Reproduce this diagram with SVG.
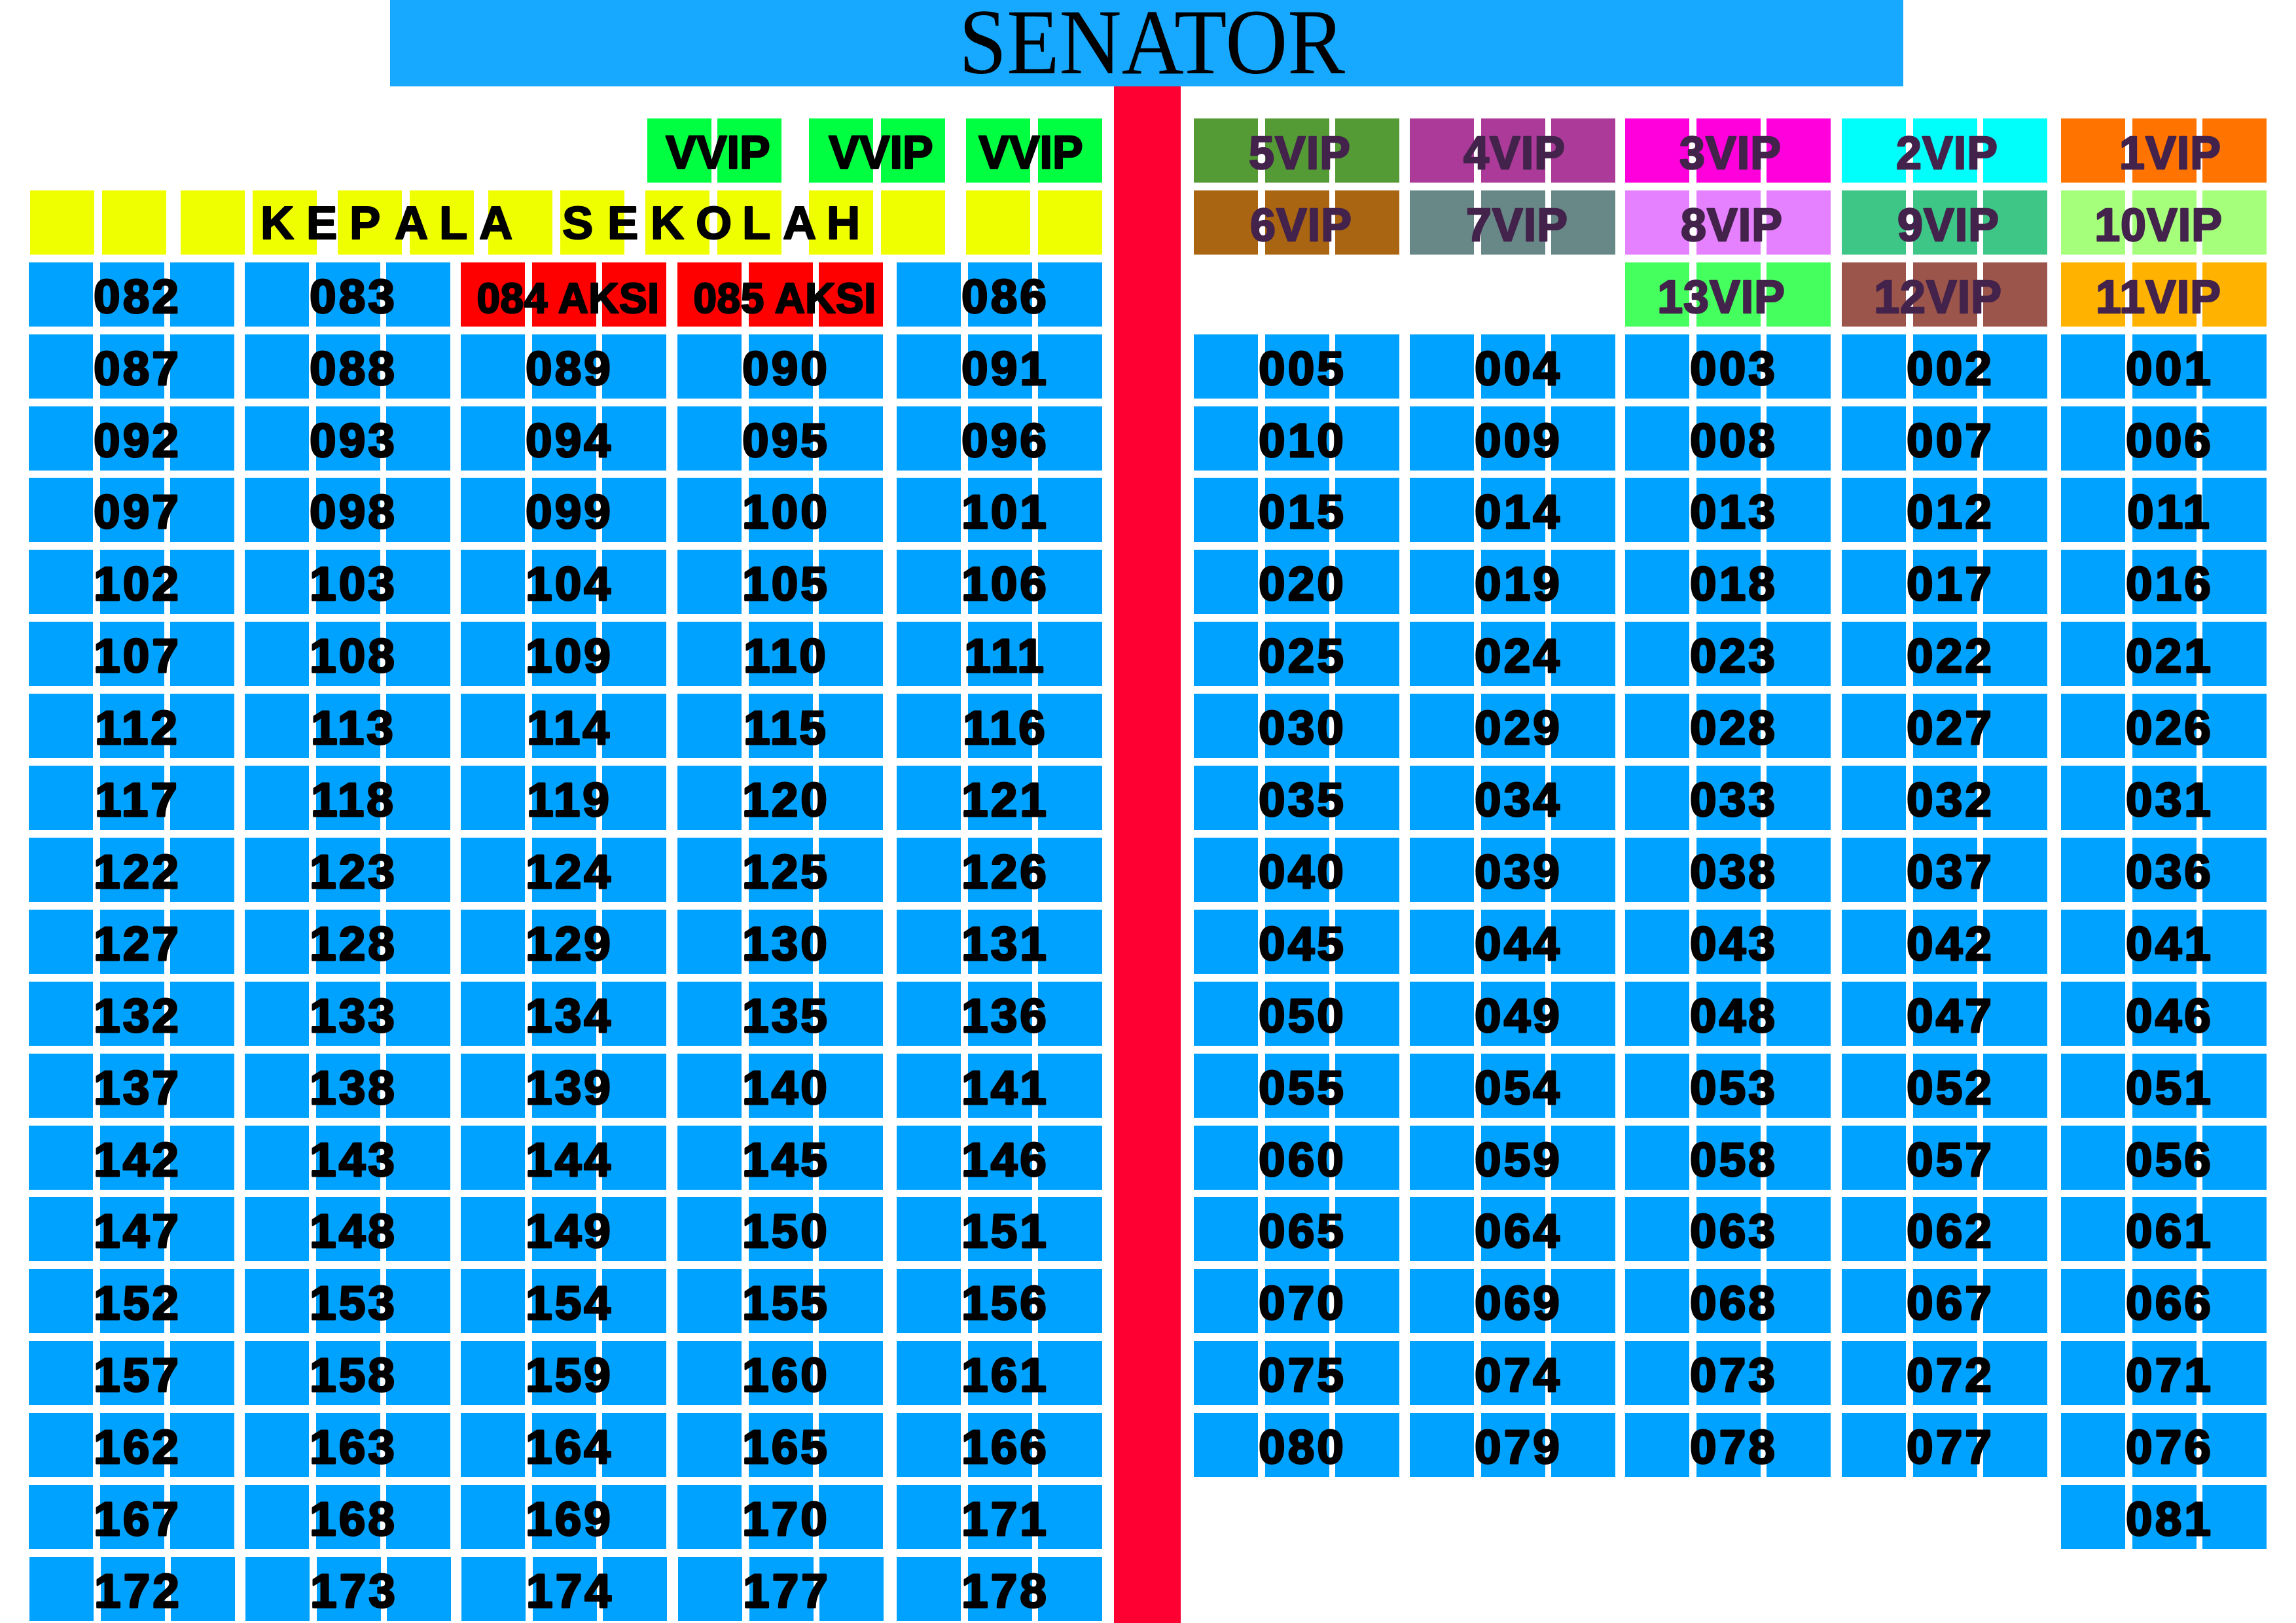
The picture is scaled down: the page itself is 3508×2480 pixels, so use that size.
<svg xmlns="http://www.w3.org/2000/svg" xmlns:xlink="http://www.w3.org/1999/xlink" width="3508" height="2480" viewBox="0 0 3508 2480">
<style>
.seat{fill:#00A2FF}
.aksi{fill:#FF0000}
.n{fill:#000;stroke:#000;stroke-width:3px;stroke-linejoin:round;font-family:"Liberation Sans",Arial,sans-serif;font-weight:700;font-size:73px;letter-spacing:4px;text-anchor:middle}
.a{fill:#000;stroke:#000;stroke-width:2.5px;stroke-linejoin:round;font-family:"Liberation Sans",Arial,sans-serif;font-weight:700;font-size:64px;letter-spacing:0.5px;text-anchor:middle}
.v{fill:#43234B;stroke:#43234B;stroke-width:2.5px;stroke-linejoin:round;font-family:"Liberation Sans",Arial,sans-serif;font-weight:700;font-size:70px;letter-spacing:1px;text-anchor:middle}
.vv{fill:#000;stroke:#000;stroke-width:2.5px;stroke-linejoin:round;font-family:"Liberation Sans",Arial,sans-serif;font-weight:700;font-size:70px;text-anchor:middle}
.ks{fill:#000;stroke:#000;stroke-width:2px;stroke-linejoin:round;font-family:"Liberation Sans",Arial,sans-serif;font-weight:700;font-size:71px}
</style>
<defs>
<g id="trio"><rect x="0" y="0" width="98" height="98"/><rect x="109" y="0" width="98" height="98"/><rect x="216" y="0" width="98" height="98"/></g>
<g id="duo"><rect x="0" y="0" width="98" height="98"/><rect x="110" y="0" width="98" height="98"/></g>
</defs>
<rect id="background" x="0" y="0" width="3508" height="2480" fill="#FFFFFF"/>
<g id="aisle"><rect x="1702" y="129" width="102" height="2351" fill="#FF0033"/></g>
<g id="stage"><rect x="596" y="0" width="2312" height="132" fill="#17A8FF"/>
<text x="1465" y="112" font-family="'Liberation Serif','Times New Roman',serif" font-size="142" textLength="590" lengthAdjust="spacingAndGlyphs" fill="#000">SENATOR</text></g>

<g id="vvip-1" fill="#00FF40" transform="translate(989,181)"><rect x="0" y="0" width="98" height="98"/><rect x="107" y="0" width="98" height="98"/><text class="vv" x="108" y="76">VVIP</text></g>
<g id="vvip-2" fill="#00FF40" transform="translate(1236,181)"><use xlink:href="#duo"/><text class="vv" x="110" y="76">VVIP</text></g>
<g id="vvip-3" fill="#00FF40" transform="translate(1476,181)"><use xlink:href="#duo"/><text class="vv" x="99" y="76">VVIP</text></g>

<g id="kepala-sekolah" fill="#F0FF00">
<rect x="46" y="291" width="98" height="98"/><rect x="156" y="291" width="98" height="98"/><rect x="276" y="291" width="98" height="98"/><rect x="386" y="291" width="98" height="98"/><rect x="516" y="291" width="98" height="98"/><rect x="626" y="291" width="98" height="98"/><rect x="746" y="291" width="98" height="98"/><rect x="856" y="291" width="98" height="98"/><rect x="986" y="291" width="98" height="98"/><rect x="1096" y="291" width="98" height="98"/><rect x="1236" y="291" width="98" height="98"/><rect x="1346" y="291" width="98" height="98"/><rect x="1476" y="291" width="98" height="98"/><rect x="1586" y="291" width="98" height="98"/>
<text class="ks" x="398 468 534 603 671 732 800 859 928 994 1063 1134 1196 1263" y="365">KEPALA SEKOLAH</text>
</g>

<g id="vip-5" fill="#549B36" transform="translate(1824,181)"><use xlink:href="#trio"/><text class="v" x="162" y="77">5VIP</text></g>
<g id="vip-4" fill="#AC3A98" transform="translate(2154,181)"><use xlink:href="#trio"/><text class="v" x="160" y="77">4VIP</text></g>
<g id="vip-3" fill="#FF00DC" transform="translate(2483,181)"><use xlink:href="#trio"/><text class="v" x="161" y="77">3VIP</text></g>
<g id="vip-2" fill="#00FFFA" transform="translate(2814,181)"><use xlink:href="#trio"/><text class="v" x="161" y="77">2VIP</text></g>
<g id="vip-1" fill="#FF7300" transform="translate(3149,181)"><use xlink:href="#trio"/><text class="v" x="167" y="77">1VIP</text></g>
<g id="vip-6" fill="#A96512" transform="translate(1824,291)"><use xlink:href="#trio"/><text class="v" x="164" y="77">6VIP</text></g>
<g id="vip-7" fill="#688787" transform="translate(2154,291)"><use xlink:href="#trio"/><text class="v" x="164" y="77">7VIP</text></g>
<g id="vip-8" fill="#E580FF" transform="translate(2483,291)"><use xlink:href="#trio"/><text class="v" x="163" y="77">8VIP</text></g>
<g id="vip-9" fill="#3DC686" transform="translate(2814,291)"><use xlink:href="#trio"/><text class="v" x="163" y="77">9VIP</text></g>
<g id="vip-10" fill="#A6FF7B" transform="translate(3149,291)"><use xlink:href="#trio"/><text class="v" x="149" y="77">10VIP</text></g>
<g id="vip-13" fill="#44FF5D" transform="translate(2483,401)"><use xlink:href="#trio"/><text class="v" x="147" y="77">13VIP</text></g>
<g id="vip-12" fill="#9C554A" transform="translate(2814,401)"><use xlink:href="#trio"/><text class="v" x="147" y="77">12VIP</text></g>
<g id="vip-11" fill="#FFB300" transform="translate(3149,401)"><use xlink:href="#trio"/><text class="v" x="149" y="77">11VIP</text></g>

<g id="seats-left">
<g id="s082" class="seat" transform="translate(44,401)"><use xlink:href="#trio"/><text class="n" x="166" y="77">082</text></g>
<g id="s083" class="seat" transform="translate(374,401)"><use xlink:href="#trio"/><text class="n" x="166" y="77">083</text></g>
<g id="s084" class="aksi" transform="translate(704,401)"><use xlink:href="#trio"/><text class="a" x="164" y="77">084 AKSI</text></g>
<g id="s085" class="aksi" transform="translate(1035,401)"><use xlink:href="#trio"/><text class="a" x="164" y="77">085 AKSI</text></g>
<g id="s086" class="seat" transform="translate(1370,401)"><use xlink:href="#trio"/><text class="n" x="166" y="77">086</text></g>

<g id="s087" class="seat" transform="translate(44,511)"><use xlink:href="#trio"/><text class="n" x="166" y="77">087</text></g>
<g id="s088" class="seat" transform="translate(374,511)"><use xlink:href="#trio"/><text class="n" x="166" y="77">088</text></g>
<g id="s089" class="seat" transform="translate(704,511)"><use xlink:href="#trio"/><text class="n" x="166" y="77">089</text></g>
<g id="s090" class="seat" transform="translate(1035,511)"><use xlink:href="#trio"/><text class="n" x="166" y="77">090</text></g>
<g id="s091" class="seat" transform="translate(1370,511)"><use xlink:href="#trio"/><text class="n" x="166" y="77">091</text></g>

<g id="s092" class="seat" transform="translate(44,621)"><use xlink:href="#trio"/><text class="n" x="166" y="77">092</text></g>
<g id="s093" class="seat" transform="translate(374,621)"><use xlink:href="#trio"/><text class="n" x="166" y="77">093</text></g>
<g id="s094" class="seat" transform="translate(704,621)"><use xlink:href="#trio"/><text class="n" x="166" y="77">094</text></g>
<g id="s095" class="seat" transform="translate(1035,621)"><use xlink:href="#trio"/><text class="n" x="166" y="77">095</text></g>
<g id="s096" class="seat" transform="translate(1370,621)"><use xlink:href="#trio"/><text class="n" x="166" y="77">096</text></g>

<g id="s097" class="seat" transform="translate(44,730)"><use xlink:href="#trio"/><text class="n" x="166" y="77">097</text></g>
<g id="s098" class="seat" transform="translate(374,730)"><use xlink:href="#trio"/><text class="n" x="166" y="77">098</text></g>
<g id="s099" class="seat" transform="translate(704,730)"><use xlink:href="#trio"/><text class="n" x="166" y="77">099</text></g>
<g id="s100" class="seat" transform="translate(1035,730)"><use xlink:href="#trio"/><text class="n" x="166" y="77">100</text></g>
<g id="s101" class="seat" transform="translate(1370,730)"><use xlink:href="#trio"/><text class="n" x="166" y="77">101</text></g>

<g id="s102" class="seat" transform="translate(44,840)"><use xlink:href="#trio"/><text class="n" x="166" y="77">102</text></g>
<g id="s103" class="seat" transform="translate(374,840)"><use xlink:href="#trio"/><text class="n" x="166" y="77">103</text></g>
<g id="s104" class="seat" transform="translate(704,840)"><use xlink:href="#trio"/><text class="n" x="166" y="77">104</text></g>
<g id="s105" class="seat" transform="translate(1035,840)"><use xlink:href="#trio"/><text class="n" x="166" y="77">105</text></g>
<g id="s106" class="seat" transform="translate(1370,840)"><use xlink:href="#trio"/><text class="n" x="166" y="77">106</text></g>

<g id="s107" class="seat" transform="translate(44,950)"><use xlink:href="#trio"/><text class="n" x="166" y="77">107</text></g>
<g id="s108" class="seat" transform="translate(374,950)"><use xlink:href="#trio"/><text class="n" x="166" y="77">108</text></g>
<g id="s109" class="seat" transform="translate(704,950)"><use xlink:href="#trio"/><text class="n" x="166" y="77">109</text></g>
<g id="s110" class="seat" transform="translate(1035,950)"><use xlink:href="#trio"/><text class="n" x="166" y="77">110</text></g>
<g id="s111" class="seat" transform="translate(1370,950)"><use xlink:href="#trio"/><text class="n" x="166" y="77">111</text></g>

<g id="s112" class="seat" transform="translate(44,1060)"><use xlink:href="#trio"/><text class="n" x="166" y="77">112</text></g>
<g id="s113" class="seat" transform="translate(374,1060)"><use xlink:href="#trio"/><text class="n" x="166" y="77">113</text></g>
<g id="s114" class="seat" transform="translate(704,1060)"><use xlink:href="#trio"/><text class="n" x="166" y="77">114</text></g>
<g id="s115" class="seat" transform="translate(1035,1060)"><use xlink:href="#trio"/><text class="n" x="166" y="77">115</text></g>
<g id="s116" class="seat" transform="translate(1370,1060)"><use xlink:href="#trio"/><text class="n" x="166" y="77">116</text></g>

<g id="s117" class="seat" transform="translate(44,1170)"><use xlink:href="#trio"/><text class="n" x="166" y="77">117</text></g>
<g id="s118" class="seat" transform="translate(374,1170)"><use xlink:href="#trio"/><text class="n" x="166" y="77">118</text></g>
<g id="s119" class="seat" transform="translate(704,1170)"><use xlink:href="#trio"/><text class="n" x="166" y="77">119</text></g>
<g id="s120" class="seat" transform="translate(1035,1170)"><use xlink:href="#trio"/><text class="n" x="166" y="77">120</text></g>
<g id="s121" class="seat" transform="translate(1370,1170)"><use xlink:href="#trio"/><text class="n" x="166" y="77">121</text></g>

<g id="s122" class="seat" transform="translate(44,1280)"><use xlink:href="#trio"/><text class="n" x="166" y="77">122</text></g>
<g id="s123" class="seat" transform="translate(374,1280)"><use xlink:href="#trio"/><text class="n" x="166" y="77">123</text></g>
<g id="s124" class="seat" transform="translate(704,1280)"><use xlink:href="#trio"/><text class="n" x="166" y="77">124</text></g>
<g id="s125" class="seat" transform="translate(1035,1280)"><use xlink:href="#trio"/><text class="n" x="166" y="77">125</text></g>
<g id="s126" class="seat" transform="translate(1370,1280)"><use xlink:href="#trio"/><text class="n" x="166" y="77">126</text></g>

<g id="s127" class="seat" transform="translate(44,1390)"><use xlink:href="#trio"/><text class="n" x="166" y="77">127</text></g>
<g id="s128" class="seat" transform="translate(374,1390)"><use xlink:href="#trio"/><text class="n" x="166" y="77">128</text></g>
<g id="s129" class="seat" transform="translate(704,1390)"><use xlink:href="#trio"/><text class="n" x="166" y="77">129</text></g>
<g id="s130" class="seat" transform="translate(1035,1390)"><use xlink:href="#trio"/><text class="n" x="166" y="77">130</text></g>
<g id="s131" class="seat" transform="translate(1370,1390)"><use xlink:href="#trio"/><text class="n" x="166" y="77">131</text></g>

<g id="s132" class="seat" transform="translate(44,1500)"><use xlink:href="#trio"/><text class="n" x="166" y="77">132</text></g>
<g id="s133" class="seat" transform="translate(374,1500)"><use xlink:href="#trio"/><text class="n" x="166" y="77">133</text></g>
<g id="s134" class="seat" transform="translate(704,1500)"><use xlink:href="#trio"/><text class="n" x="166" y="77">134</text></g>
<g id="s135" class="seat" transform="translate(1035,1500)"><use xlink:href="#trio"/><text class="n" x="166" y="77">135</text></g>
<g id="s136" class="seat" transform="translate(1370,1500)"><use xlink:href="#trio"/><text class="n" x="166" y="77">136</text></g>

<g id="s137" class="seat" transform="translate(44,1610)"><use xlink:href="#trio"/><text class="n" x="166" y="77">137</text></g>
<g id="s138" class="seat" transform="translate(374,1610)"><use xlink:href="#trio"/><text class="n" x="166" y="77">138</text></g>
<g id="s139" class="seat" transform="translate(704,1610)"><use xlink:href="#trio"/><text class="n" x="166" y="77">139</text></g>
<g id="s140" class="seat" transform="translate(1035,1610)"><use xlink:href="#trio"/><text class="n" x="166" y="77">140</text></g>
<g id="s141" class="seat" transform="translate(1370,1610)"><use xlink:href="#trio"/><text class="n" x="166" y="77">141</text></g>

<g id="s142" class="seat" transform="translate(44,1720)"><use xlink:href="#trio"/><text class="n" x="166" y="77">142</text></g>
<g id="s143" class="seat" transform="translate(374,1720)"><use xlink:href="#trio"/><text class="n" x="166" y="77">143</text></g>
<g id="s144" class="seat" transform="translate(704,1720)"><use xlink:href="#trio"/><text class="n" x="166" y="77">144</text></g>
<g id="s145" class="seat" transform="translate(1035,1720)"><use xlink:href="#trio"/><text class="n" x="166" y="77">145</text></g>
<g id="s146" class="seat" transform="translate(1370,1720)"><use xlink:href="#trio"/><text class="n" x="166" y="77">146</text></g>

<g id="s147" class="seat" transform="translate(44,1829)"><use xlink:href="#trio"/><text class="n" x="166" y="77">147</text></g>
<g id="s148" class="seat" transform="translate(374,1829)"><use xlink:href="#trio"/><text class="n" x="166" y="77">148</text></g>
<g id="s149" class="seat" transform="translate(704,1829)"><use xlink:href="#trio"/><text class="n" x="166" y="77">149</text></g>
<g id="s150" class="seat" transform="translate(1035,1829)"><use xlink:href="#trio"/><text class="n" x="166" y="77">150</text></g>
<g id="s151" class="seat" transform="translate(1370,1829)"><use xlink:href="#trio"/><text class="n" x="166" y="77">151</text></g>

<g id="s152" class="seat" transform="translate(44,1939)"><use xlink:href="#trio"/><text class="n" x="166" y="77">152</text></g>
<g id="s153" class="seat" transform="translate(374,1939)"><use xlink:href="#trio"/><text class="n" x="166" y="77">153</text></g>
<g id="s154" class="seat" transform="translate(704,1939)"><use xlink:href="#trio"/><text class="n" x="166" y="77">154</text></g>
<g id="s155" class="seat" transform="translate(1035,1939)"><use xlink:href="#trio"/><text class="n" x="166" y="77">155</text></g>
<g id="s156" class="seat" transform="translate(1370,1939)"><use xlink:href="#trio"/><text class="n" x="166" y="77">156</text></g>

<g id="s157" class="seat" transform="translate(44,2049)"><use xlink:href="#trio"/><text class="n" x="166" y="77">157</text></g>
<g id="s158" class="seat" transform="translate(374,2049)"><use xlink:href="#trio"/><text class="n" x="166" y="77">158</text></g>
<g id="s159" class="seat" transform="translate(704,2049)"><use xlink:href="#trio"/><text class="n" x="166" y="77">159</text></g>
<g id="s160" class="seat" transform="translate(1035,2049)"><use xlink:href="#trio"/><text class="n" x="166" y="77">160</text></g>
<g id="s161" class="seat" transform="translate(1370,2049)"><use xlink:href="#trio"/><text class="n" x="166" y="77">161</text></g>

<g id="s162" class="seat" transform="translate(44,2159)"><use xlink:href="#trio"/><text class="n" x="166" y="77">162</text></g>
<g id="s163" class="seat" transform="translate(374,2159)"><use xlink:href="#trio"/><text class="n" x="166" y="77">163</text></g>
<g id="s164" class="seat" transform="translate(704,2159)"><use xlink:href="#trio"/><text class="n" x="166" y="77">164</text></g>
<g id="s165" class="seat" transform="translate(1035,2159)"><use xlink:href="#trio"/><text class="n" x="166" y="77">165</text></g>
<g id="s166" class="seat" transform="translate(1370,2159)"><use xlink:href="#trio"/><text class="n" x="166" y="77">166</text></g>

<g id="s167" class="seat" transform="translate(44,2269)"><use xlink:href="#trio"/><text class="n" x="166" y="77">167</text></g>
<g id="s168" class="seat" transform="translate(374,2269)"><use xlink:href="#trio"/><text class="n" x="166" y="77">168</text></g>
<g id="s169" class="seat" transform="translate(704,2269)"><use xlink:href="#trio"/><text class="n" x="166" y="77">169</text></g>
<g id="s170" class="seat" transform="translate(1035,2269)"><use xlink:href="#trio"/><text class="n" x="166" y="77">170</text></g>
<g id="s171" class="seat" transform="translate(1370,2269)"><use xlink:href="#trio"/><text class="n" x="166" y="77">171</text></g>

<g id="s172" class="seat" transform="translate(45,2379)"><use xlink:href="#trio"/><text class="n" x="166" y="77">172</text></g>
<g id="s173" class="seat" transform="translate(375,2379)"><use xlink:href="#trio"/><text class="n" x="166" y="77">173</text></g>
<g id="s174" class="seat" transform="translate(705,2379)"><use xlink:href="#trio"/><text class="n" x="166" y="77">174</text></g>
<g id="s177" class="seat" transform="translate(1036,2379)"><use xlink:href="#trio"/><text class="n" x="166" y="77">177</text></g>
<g id="s178" class="seat" transform="translate(1370,2379)"><use xlink:href="#trio"/><text class="n" x="166" y="77">178</text></g>
</g>

<g id="seats-right">
<g id="s005" class="seat" transform="translate(1824,511)"><use xlink:href="#trio"/><text class="n" x="166" y="77">005</text></g>
<g id="s004" class="seat" transform="translate(2154,511)"><use xlink:href="#trio"/><text class="n" x="166" y="77">004</text></g>
<g id="s003" class="seat" transform="translate(2483,511)"><use xlink:href="#trio"/><text class="n" x="166" y="77">003</text></g>
<g id="s002" class="seat" transform="translate(2814,511)"><use xlink:href="#trio"/><text class="n" x="166" y="77">002</text></g>
<g id="s001" class="seat" transform="translate(3149,511)"><use xlink:href="#trio"/><text class="n" x="166" y="77">001</text></g>

<g id="s010" class="seat" transform="translate(1824,621)"><use xlink:href="#trio"/><text class="n" x="166" y="77">010</text></g>
<g id="s009" class="seat" transform="translate(2154,621)"><use xlink:href="#trio"/><text class="n" x="166" y="77">009</text></g>
<g id="s008" class="seat" transform="translate(2483,621)"><use xlink:href="#trio"/><text class="n" x="166" y="77">008</text></g>
<g id="s007" class="seat" transform="translate(2814,621)"><use xlink:href="#trio"/><text class="n" x="166" y="77">007</text></g>
<g id="s006" class="seat" transform="translate(3149,621)"><use xlink:href="#trio"/><text class="n" x="166" y="77">006</text></g>

<g id="s015" class="seat" transform="translate(1824,730)"><use xlink:href="#trio"/><text class="n" x="166" y="77">015</text></g>
<g id="s014" class="seat" transform="translate(2154,730)"><use xlink:href="#trio"/><text class="n" x="166" y="77">014</text></g>
<g id="s013" class="seat" transform="translate(2483,730)"><use xlink:href="#trio"/><text class="n" x="166" y="77">013</text></g>
<g id="s012" class="seat" transform="translate(2814,730)"><use xlink:href="#trio"/><text class="n" x="166" y="77">012</text></g>
<g id="s011" class="seat" transform="translate(3149,730)"><use xlink:href="#trio"/><text class="n" x="166" y="77">011</text></g>

<g id="s020" class="seat" transform="translate(1824,840)"><use xlink:href="#trio"/><text class="n" x="166" y="77">020</text></g>
<g id="s019" class="seat" transform="translate(2154,840)"><use xlink:href="#trio"/><text class="n" x="166" y="77">019</text></g>
<g id="s018" class="seat" transform="translate(2483,840)"><use xlink:href="#trio"/><text class="n" x="166" y="77">018</text></g>
<g id="s017" class="seat" transform="translate(2814,840)"><use xlink:href="#trio"/><text class="n" x="166" y="77">017</text></g>
<g id="s016" class="seat" transform="translate(3149,840)"><use xlink:href="#trio"/><text class="n" x="166" y="77">016</text></g>

<g id="s025" class="seat" transform="translate(1824,950)"><use xlink:href="#trio"/><text class="n" x="166" y="77">025</text></g>
<g id="s024" class="seat" transform="translate(2154,950)"><use xlink:href="#trio"/><text class="n" x="166" y="77">024</text></g>
<g id="s023" class="seat" transform="translate(2483,950)"><use xlink:href="#trio"/><text class="n" x="166" y="77">023</text></g>
<g id="s022" class="seat" transform="translate(2814,950)"><use xlink:href="#trio"/><text class="n" x="166" y="77">022</text></g>
<g id="s021" class="seat" transform="translate(3149,950)"><use xlink:href="#trio"/><text class="n" x="166" y="77">021</text></g>

<g id="s030" class="seat" transform="translate(1824,1060)"><use xlink:href="#trio"/><text class="n" x="166" y="77">030</text></g>
<g id="s029" class="seat" transform="translate(2154,1060)"><use xlink:href="#trio"/><text class="n" x="166" y="77">029</text></g>
<g id="s028" class="seat" transform="translate(2483,1060)"><use xlink:href="#trio"/><text class="n" x="166" y="77">028</text></g>
<g id="s027" class="seat" transform="translate(2814,1060)"><use xlink:href="#trio"/><text class="n" x="166" y="77">027</text></g>
<g id="s026" class="seat" transform="translate(3149,1060)"><use xlink:href="#trio"/><text class="n" x="166" y="77">026</text></g>

<g id="s035" class="seat" transform="translate(1824,1170)"><use xlink:href="#trio"/><text class="n" x="166" y="77">035</text></g>
<g id="s034" class="seat" transform="translate(2154,1170)"><use xlink:href="#trio"/><text class="n" x="166" y="77">034</text></g>
<g id="s033" class="seat" transform="translate(2483,1170)"><use xlink:href="#trio"/><text class="n" x="166" y="77">033</text></g>
<g id="s032" class="seat" transform="translate(2814,1170)"><use xlink:href="#trio"/><text class="n" x="166" y="77">032</text></g>
<g id="s031" class="seat" transform="translate(3149,1170)"><use xlink:href="#trio"/><text class="n" x="166" y="77">031</text></g>

<g id="s040" class="seat" transform="translate(1824,1280)"><use xlink:href="#trio"/><text class="n" x="166" y="77">040</text></g>
<g id="s039" class="seat" transform="translate(2154,1280)"><use xlink:href="#trio"/><text class="n" x="166" y="77">039</text></g>
<g id="s038" class="seat" transform="translate(2483,1280)"><use xlink:href="#trio"/><text class="n" x="166" y="77">038</text></g>
<g id="s037" class="seat" transform="translate(2814,1280)"><use xlink:href="#trio"/><text class="n" x="166" y="77">037</text></g>
<g id="s036" class="seat" transform="translate(3149,1280)"><use xlink:href="#trio"/><text class="n" x="166" y="77">036</text></g>

<g id="s045" class="seat" transform="translate(1824,1390)"><use xlink:href="#trio"/><text class="n" x="166" y="77">045</text></g>
<g id="s044" class="seat" transform="translate(2154,1390)"><use xlink:href="#trio"/><text class="n" x="166" y="77">044</text></g>
<g id="s043" class="seat" transform="translate(2483,1390)"><use xlink:href="#trio"/><text class="n" x="166" y="77">043</text></g>
<g id="s042" class="seat" transform="translate(2814,1390)"><use xlink:href="#trio"/><text class="n" x="166" y="77">042</text></g>
<g id="s041" class="seat" transform="translate(3149,1390)"><use xlink:href="#trio"/><text class="n" x="166" y="77">041</text></g>

<g id="s050" class="seat" transform="translate(1824,1500)"><use xlink:href="#trio"/><text class="n" x="166" y="77">050</text></g>
<g id="s049" class="seat" transform="translate(2154,1500)"><use xlink:href="#trio"/><text class="n" x="166" y="77">049</text></g>
<g id="s048" class="seat" transform="translate(2483,1500)"><use xlink:href="#trio"/><text class="n" x="166" y="77">048</text></g>
<g id="s047" class="seat" transform="translate(2814,1500)"><use xlink:href="#trio"/><text class="n" x="166" y="77">047</text></g>
<g id="s046" class="seat" transform="translate(3149,1500)"><use xlink:href="#trio"/><text class="n" x="166" y="77">046</text></g>

<g id="s055" class="seat" transform="translate(1824,1610)"><use xlink:href="#trio"/><text class="n" x="166" y="77">055</text></g>
<g id="s054" class="seat" transform="translate(2154,1610)"><use xlink:href="#trio"/><text class="n" x="166" y="77">054</text></g>
<g id="s053" class="seat" transform="translate(2483,1610)"><use xlink:href="#trio"/><text class="n" x="166" y="77">053</text></g>
<g id="s052" class="seat" transform="translate(2814,1610)"><use xlink:href="#trio"/><text class="n" x="166" y="77">052</text></g>
<g id="s051" class="seat" transform="translate(3149,1610)"><use xlink:href="#trio"/><text class="n" x="166" y="77">051</text></g>

<g id="s060" class="seat" transform="translate(1824,1720)"><use xlink:href="#trio"/><text class="n" x="166" y="77">060</text></g>
<g id="s059" class="seat" transform="translate(2154,1720)"><use xlink:href="#trio"/><text class="n" x="166" y="77">059</text></g>
<g id="s058" class="seat" transform="translate(2483,1720)"><use xlink:href="#trio"/><text class="n" x="166" y="77">058</text></g>
<g id="s057" class="seat" transform="translate(2814,1720)"><use xlink:href="#trio"/><text class="n" x="166" y="77">057</text></g>
<g id="s056" class="seat" transform="translate(3149,1720)"><use xlink:href="#trio"/><text class="n" x="166" y="77">056</text></g>

<g id="s065" class="seat" transform="translate(1824,1829)"><use xlink:href="#trio"/><text class="n" x="166" y="77">065</text></g>
<g id="s064" class="seat" transform="translate(2154,1829)"><use xlink:href="#trio"/><text class="n" x="166" y="77">064</text></g>
<g id="s063" class="seat" transform="translate(2483,1829)"><use xlink:href="#trio"/><text class="n" x="166" y="77">063</text></g>
<g id="s062" class="seat" transform="translate(2814,1829)"><use xlink:href="#trio"/><text class="n" x="166" y="77">062</text></g>
<g id="s061" class="seat" transform="translate(3149,1829)"><use xlink:href="#trio"/><text class="n" x="166" y="77">061</text></g>

<g id="s070" class="seat" transform="translate(1824,1939)"><use xlink:href="#trio"/><text class="n" x="166" y="77">070</text></g>
<g id="s069" class="seat" transform="translate(2154,1939)"><use xlink:href="#trio"/><text class="n" x="166" y="77">069</text></g>
<g id="s068" class="seat" transform="translate(2483,1939)"><use xlink:href="#trio"/><text class="n" x="166" y="77">068</text></g>
<g id="s067" class="seat" transform="translate(2814,1939)"><use xlink:href="#trio"/><text class="n" x="166" y="77">067</text></g>
<g id="s066" class="seat" transform="translate(3149,1939)"><use xlink:href="#trio"/><text class="n" x="166" y="77">066</text></g>

<g id="s075" class="seat" transform="translate(1824,2049)"><use xlink:href="#trio"/><text class="n" x="166" y="77">075</text></g>
<g id="s074" class="seat" transform="translate(2154,2049)"><use xlink:href="#trio"/><text class="n" x="166" y="77">074</text></g>
<g id="s073" class="seat" transform="translate(2483,2049)"><use xlink:href="#trio"/><text class="n" x="166" y="77">073</text></g>
<g id="s072" class="seat" transform="translate(2814,2049)"><use xlink:href="#trio"/><text class="n" x="166" y="77">072</text></g>
<g id="s071" class="seat" transform="translate(3149,2049)"><use xlink:href="#trio"/><text class="n" x="166" y="77">071</text></g>

<g id="s080" class="seat" transform="translate(1824,2159)"><use xlink:href="#trio"/><text class="n" x="166" y="77">080</text></g>
<g id="s079" class="seat" transform="translate(2154,2159)"><use xlink:href="#trio"/><text class="n" x="166" y="77">079</text></g>
<g id="s078" class="seat" transform="translate(2483,2159)"><use xlink:href="#trio"/><text class="n" x="166" y="77">078</text></g>
<g id="s077" class="seat" transform="translate(2814,2159)"><use xlink:href="#trio"/><text class="n" x="166" y="77">077</text></g>
<g id="s076" class="seat" transform="translate(3149,2159)"><use xlink:href="#trio"/><text class="n" x="166" y="77">076</text></g>

<g id="s081" class="seat" transform="translate(3149,2269)"><use xlink:href="#trio"/><text class="n" x="166" y="77">081</text></g>
</g>
</svg>
